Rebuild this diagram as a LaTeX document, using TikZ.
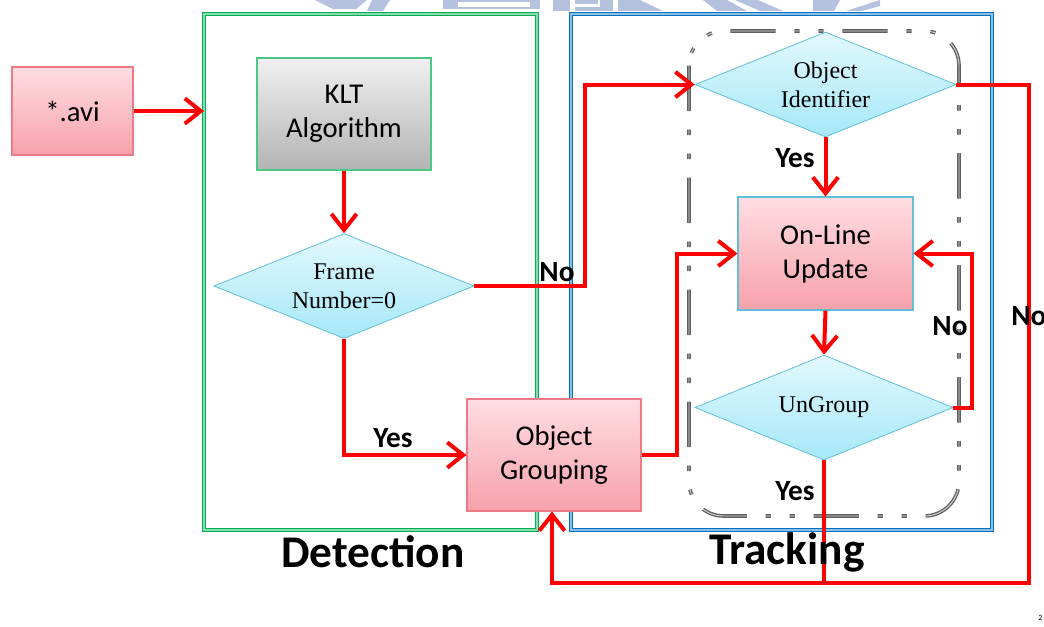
\documentclass[tikz,border=0pt]{standalone}
\usepackage{fontspec}
\setmainfont{Liberation Serif}
\newfontfamily\calib{Carlito}
\usetikzlibrary{shapes.geometric,arrows.meta}

\definecolor{flowred}{HTML}{FF0000}
\definecolor{frmgreen}{HTML}{00B050}
\definecolor{frmblue}{HTML}{0070C0}
\definecolor{pinktop}{HTML}{FFDDE2}
\definecolor{pinkbot}{HTML}{F7A1AB}
\definecolor{pinkedge}{HTML}{EE7A88}
\definecolor{cyantop}{HTML}{E2F8FD}
\definecolor{cyanbot}{HTML}{A6E8F9}
\definecolor{cyanedge}{HTML}{62BFD8}
\definecolor{greytop}{HTML}{F0F0F0}
\definecolor{greybot}{HTML}{B4B4B4}
\definecolor{mark}{HTML}{B5C2DF}

\tikzset{
  pinkbox/.style={rectangle, draw=pinkedge, line width=0.8pt,
    top color=pinktop, bottom color=pinkbot, align=center,
    font=\calib\fontsize{21.5}{25.5}\selectfont, inner sep=0pt},
  klt/.style={rectangle, draw=frmgreen!70, line width=0.8pt,
    top color=greytop, bottom color=greybot, align=center,
    font=\calib\fontsize{21.5}{25.5}\selectfont, inner sep=0pt},
  decide/.style={diamond, draw=cyanedge, line width=0.6pt, aspect=2.5,
    top color=cyantop, bottom color=cyanbot, align=center,
    font=\fontsize{18}{21.75}\selectfont, inner sep=0pt},
  flow/.style={draw=flowred, line width=3pt, line join=miter,
    -{Straight Barb[length=12pt,width=19pt]}},
  flowplain/.style={draw=flowred, line width=3pt, line join=miter},
  frame/.style={line width=1.1pt, double distance=0.9pt},
  answer/.style={font=\calib\bfseries\fontsize{22}{24}\selectfont, inner sep=0pt},
  title/.style={font=\calib\bfseries\fontsize{34}{38}\selectfont, inner sep=0pt},
  group/.style={draw=gray!75!black, line width=1pt, double=gray!35,
    double distance=0.7pt, rounded corners=26pt,
    dash pattern=on 34pt off 14pt on 4pt off 14pt on 4pt off 14pt}
}

\begin{document}
\begin{tikzpicture}[x=0.75pt,y=-0.75pt]
\useasboundingbox (0,0) rectangle (1044,626);
\fill[white] (0,0) rectangle (1044,626);

% faint emblem cut off along the top edge
\begin{scope}[fill=mark]
  \fill (315,0) -- (367,0) -- (356,9) -- (333,9) -- cycle;
  \fill (372,0) -- (390,0) -- (383,11) -- (367,11) -- cycle;
  \fill (443,0) rectangle (540,2);
  \fill (443,2) rectangle (458,9);
  \fill (458,7) rectangle (530,9);
  \fill (530,2) rectangle (540,9);
  \fill (553,0) rectangle (570,11);
  \fill (575,0) rectangle (598,4);
  \fill (575,7) rectangle (613,11);
  \fill (600,0) rectangle (613,7);
  \fill (618,0) -- (640,0) -- (663,11) -- (618,11) -- cycle;
  \fill (703,0) -- (727,0) -- (747,11) -- (717,11) -- cycle;
  \fill (735,0) -- (758,0) -- (783,11) -- (760,11) -- cycle;
  \fill (813,0) -- (840,0) -- (834,11) -- (813,11) -- cycle;
  \fill (846,11) -- (880,0) -- (880,6) -- (862,11) -- cycle;
\end{scope}

% stage frames
\draw[frame, draw=frmgreen, double=frmgreen!45!white] (204,14) rectangle (537,530);
\draw[frame, draw=frmblue, double=frmblue!45!white] (571,14) rectangle (992,530);
% tracking loop group
\draw[group] (689,31) rectangle (959,516);

% blocks
\node[pinkbox, minimum width=90.75pt, minimum height=66pt] (avi) at (72.5,111) {*.avi};
\node[klt, minimum width=130.5pt, minimum height=84pt] (klt) at (344,114) {KLT\\Algorithm};
\node[decide, minimum width=195pt, minimum height=78.75pt] (frame) at (344,286) {Frame\\Number=0};
\node[pinkbox, minimum width=130.5pt, minimum height=84pt] (group) at (554,455) {Object\\Grouping};
\node[decide, minimum width=195.75pt, minimum height=78.75pt] (ident) at (825.5,84.5) {Object\\Identifier};
\node[pinkbox, draw=cyanedge, minimum width=131.25pt, minimum height=84.75pt] (update) at (825.5,253.5) {On-Line\\Update};
\node[decide, minimum width=193.5pt, minimum height=78.75pt] (ungroup) at (824,407.5) {UnGroup};

% junction points of the connectors
\coordinate (detin) at (204,111);
\coordinate (fb) at (552,583);

% connectors
\draw[flow] (avi.east) -- (detin);
\draw[flow] (klt.south) -- (frame.north);
\draw[flow] (frame.east) -- (585,286) |- (ident.west);
\draw[flow] (frame.south) |- (group.west);
\draw[flow] (group.east) -- (677,455) |- (update.west);
\draw[flow] (ident.south) -- (update.north);
\draw[flow] (update.south) -- (ungroup.north);
\draw[flow] (ungroup.east) -- (972,407.5) |- (update.east);
\draw[flowplain] (ident.east) -- (1029,84.5) -- (1029,583) -- (fb);
\draw[flow] (ungroup.south) -- (824,583) -- (fb) -- (group.south -| fb);

% branch labels
\node[answer] (l1) at (557,272) {No};
\node[answer] (l2) at (393,438) {Yes};
\node[answer] (l3) at (795,158) {Yes};
\node[answer] (l4) at (950,326) {No};
\node[answer] (l5) at (795,491) {Yes};
\node[answer, anchor=west] (l6) at (1011,316) {No};

% stage titles
\node[title] (det) at (373,552) {Detection};
\node[title] (trk) at (787,552) {Tracking};

\node[font=\calib\fontsize{6}{7}\selectfont, anchor=west, inner sep=0pt] (pg) at (1038,618) {2};
\end{tikzpicture}
\end{document}
